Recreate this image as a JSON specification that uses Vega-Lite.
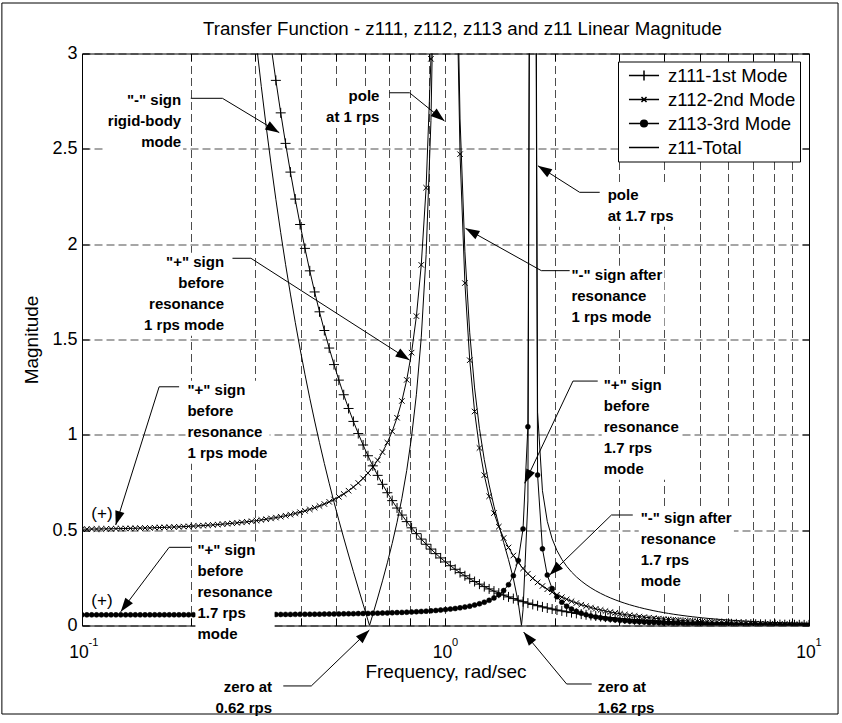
{
"$schema": "https://vega.github.io/schema/vega-lite/v6.json",
"width": 727, "height": 572,
"autosize": {"type": "none"},
"padding": {"left": 82, "top": 53.5, "right": 33, "bottom": 97.5},
"background": "white",
"title": {"text": "Transfer Function - z111, z112, z113 and z11 Linear Magnitude", "frame": "group", "anchor": "middle", "dx": 17, "dy": 66, "baseline": "alphabetic", "offset": 15, "font": "Liberation Sans", "fontSize": 18.7, "fontWeight": "normal", "color": "black"},
"config": {
  "view": {"stroke": "black", "strokeWidth": 1},
  "axis": {"labelFont": "Liberation Sans", "titleFont": "Liberation Sans", "labelColor": "black", "titleColor": "black", "tickColor": "black", "domain": false, "labelFlush": false, "labelOverlap": false, "titleFontWeight": "normal"}
},
"resolve": {"axis": {"x": "independent", "y": "independent"}},
"datasets": {
"z111": [{"f":0.1,"m":33.333},{"f":0.10312,"m":31.348},{"f":0.10633,"m":29.481},{"f":0.10965,"m":27.725},{"f":0.11307,"m":26.074},{"f":0.11659,"m":24.521},{"f":0.12023,"m":23.061},{"f":0.12398,"m":21.688},{"f":0.12784,"m":20.396},{"f":0.13183,"m":19.181},{"f":0.13594,"m":18.039},{"f":0.14017,"m":16.965},{"f":0.14454,"m":15.954},{"f":0.14905,"m":15.004},{"f":0.1537,"m":14.11},{"f":0.15849,"m":13.27},{"f":0.16343,"m":12.48},{"f":0.16853,"m":11.737},{"f":0.17378,"m":11.038},{"f":0.1792,"m":10.38},{"f":0.18479,"m":9.7621},{"f":0.19055,"m":9.1808},{"f":0.19649,"m":8.6341},{"f":0.20261,"m":8.1198},{"f":0.20893,"m":7.6362},{"f":0.21544,"m":7.1814},{"f":0.22216,"m":6.7538},{"f":0.22909,"m":6.3515},{"f":0.23623,"m":5.9732},{"f":0.24359,"m":5.6175},{"f":0.25119,"m":5.283},{"f":0.25902,"m":4.9684},{"f":0.2671,"m":4.6725},{"f":0.27542,"m":4.3942},{"f":0.28401,"m":4.1325},{"f":0.29286,"m":3.8864},{"f":0.302,"m":3.6549},{"f":0.31141,"m":3.4373},{"f":0.32112,"m":3.2325},{"f":0.33113,"m":3.04},{"f":0.34145,"m":2.859},{"f":0.3521,"m":2.6887},{"f":0.36308,"m":2.5286},{"f":0.3744,"m":2.378},{"f":0.38607,"m":2.2364},{"f":0.39811,"m":2.1032},{"f":0.41052,"m":1.9779},{"f":0.42332,"m":1.8601},{"f":0.43652,"m":1.7494},{"f":0.45013,"m":1.6452},{"f":0.46416,"m":1.5472},{"f":0.47863,"m":1.4551},{"f":0.49355,"m":1.3684},{"f":0.50894,"m":1.2869},{"f":0.52481,"m":1.2103},{"f":0.54117,"m":1.1382},{"f":0.55804,"m":1.0704},{"f":0.57544,"m":1.0067},{"f":0.59338,"m":0.9467},{"f":0.61188,"m":0.8903},{"f":0.63096,"m":0.8373},{"f":0.65063,"m":0.7874},{"f":0.67091,"m":0.7405},{"f":0.69183,"m":0.6964},{"f":0.7134,"m":0.655},{"f":0.73564,"m":0.616},{"f":0.75858,"m":0.5793},{"f":0.78223,"m":0.5448},{"f":0.80662,"m":0.5123},{"f":0.83176,"m":0.4818},{"f":0.8577,"m":0.4531},{"f":0.88444,"m":0.4261},{"f":0.91201,"m":0.4008},{"f":0.94044,"m":0.3769},{"f":0.96977,"m":0.3544},{"f":1,"m":0.3333},{"f":1.0312,"m":0.3135},{"f":1.0633,"m":0.2948},{"f":1.0965,"m":0.2773},{"f":1.1307,"m":0.2607},{"f":1.1659,"m":0.2452},{"f":1.2023,"m":0.2306},{"f":1.2398,"m":0.2169},{"f":1.2784,"m":0.204},{"f":1.3183,"m":0.1918},{"f":1.3594,"m":0.1804},{"f":1.4017,"m":0.1696},{"f":1.4454,"m":0.1595},{"f":1.4905,"m":0.15},{"f":1.537,"m":0.1411},{"f":1.5849,"m":0.1327},{"f":1.6343,"m":0.1248},{"f":1.6853,"m":0.1174},{"f":1.7378,"m":0.1104},{"f":1.792,"m":0.1038},{"f":1.8479,"m":0.0976},{"f":1.9055,"m":0.0918},{"f":1.9649,"m":0.0863},{"f":2.0261,"m":0.0812},{"f":2.0893,"m":0.0764},{"f":2.1544,"m":0.0718},{"f":2.2216,"m":0.0675},{"f":2.2909,"m":0.0635},{"f":2.3623,"m":0.0597},{"f":2.4359,"m":0.0562},{"f":2.5119,"m":0.0528},{"f":2.5902,"m":0.0497},{"f":2.671,"m":0.0467},{"f":2.7542,"m":0.0439},{"f":2.8401,"m":0.0413},{"f":2.9286,"m":0.0389},{"f":3.02,"m":0.0365},{"f":3.1141,"m":0.0344},{"f":3.2112,"m":0.0323},{"f":3.3113,"m":0.0304},{"f":3.4145,"m":0.0286},{"f":3.521,"m":0.0269},{"f":3.6308,"m":0.0253},{"f":3.744,"m":0.0238},{"f":3.8607,"m":0.0224},{"f":3.9811,"m":0.021},{"f":4.1052,"m":0.0198},{"f":4.2332,"m":0.0186},{"f":4.3652,"m":0.0175},{"f":4.5013,"m":0.0165},{"f":4.6416,"m":0.0155},{"f":4.7863,"m":0.0146},{"f":4.9355,"m":0.0137},{"f":5.0894,"m":0.0129},{"f":5.2481,"m":0.0121},{"f":5.4117,"m":0.0114},{"f":5.5804,"m":0.0107},{"f":5.7544,"m":0.0101},{"f":5.9338,"m":0.0095},{"f":6.1188,"m":0.0089},{"f":6.3096,"m":0.0084},{"f":6.5063,"m":0.0079},{"f":6.7091,"m":0.0074},{"f":6.9183,"m":0.007},{"f":7.134,"m":0.0065},{"f":7.3564,"m":0.0062},{"f":7.5858,"m":0.0058},{"f":7.8223,"m":0.0054},{"f":8.0662,"m":0.0051},{"f":8.3176,"m":0.0048},{"f":8.577,"m":0.0045},{"f":8.8444,"m":0.0043},{"f":9.1201,"m":0.004},{"f":9.4044,"m":0.0038},{"f":9.6977,"m":0.0035},{"f":10,"m":0.0033}],
"z112": [{"f":0.1,"m":0.50505},{"f":0.10312,"m":0.50537},{"f":0.10633,"m":0.50572},{"f":0.10965,"m":0.50609},{"f":0.11307,"m":0.50648},{"f":0.11659,"m":0.50689},{"f":0.12023,"m":0.50733},{"f":0.12398,"m":0.50781},{"f":0.12784,"m":0.50831},{"f":0.13183,"m":0.50884},{"f":0.13594,"m":0.50941},{"f":0.14017,"m":0.51002},{"f":0.14454,"m":0.51067},{"f":0.14905,"m":0.51136},{"f":0.1537,"m":0.5121},{"f":0.15849,"m":0.51288},{"f":0.16343,"m":0.51372},{"f":0.16853,"m":0.51462},{"f":0.17378,"m":0.51557},{"f":0.1792,"m":0.51659},{"f":0.18479,"m":0.51767},{"f":0.19055,"m":0.51883},{"f":0.19649,"m":0.52007},{"f":0.20261,"m":0.52139},{"f":0.20893,"m":0.5228},{"f":0.21544,"m":0.5243},{"f":0.22216,"m":0.5259},{"f":0.22909,"m":0.52761},{"f":0.23623,"m":0.52944},{"f":0.24359,"m":0.53154},{"f":0.25119,"m":0.53367},{"f":0.25902,"m":0.53596},{"f":0.2671,"m":0.53841},{"f":0.27542,"m":0.54104},{"f":0.28401,"m":0.54381},{"f":0.29286,"m":0.54691},{"f":0.302,"m":0.55018},{"f":0.31141,"m":0.5537},{"f":0.32112,"m":0.55749},{"f":0.33113,"m":0.56158},{"f":0.34145,"m":0.56599},{"f":0.3521,"m":0.57076},{"f":0.36308,"m":0.57592},{"f":0.3744,"m":0.58151},{"f":0.38607,"m":0.58758},{"f":0.39811,"m":0.59417},{"f":0.41052,"m":0.60134},{"f":0.42332,"m":0.60916},{"f":0.43652,"m":0.6177},{"f":0.45013,"m":0.62705},{"f":0.46416,"m":0.6373},{"f":0.47863,"m":0.64858},{"f":0.49355,"m":0.66103},{"f":0.50894,"m":0.67478},{"f":0.52481,"m":0.69006},{"f":0.54117,"m":0.70708},{"f":0.55804,"m":0.72613},{"f":0.57544,"m":0.74753},{"f":0.59338,"m":0.77173},{"f":0.61188,"m":0.79923},{"f":0.63096,"m":0.83072},{"f":0.65063,"m":0.86703},{"f":0.67091,"m":0.9093},{"f":0.69183,"m":0.95901},{"f":0.7134,"m":1.0182},{"f":0.73564,"m":1.0897},{"f":0.75858,"m":1.1777},{"f":0.78223,"m":1.2883},{"f":0.80662,"m":1.4311},{"f":0.83176,"m":1.6225},{"f":0.8577,"m":1.8914},{"f":0.88444,"m":2.296},{"f":0.91201,"m":2.972},{"f":0.94044,"m":4.3266},{"f":0.96977,"m":8.3959},{"f":1.0312,"m":7.8955},{"f":1.0633,"m":3.8266},{"f":1.0965,"m":2.472},{"f":1.1307,"m":1.796},{"f":1.1659,"m":1.3914},{"f":1.2023,"m":1.1225},{"f":1.2398,"m":0.93114},{"f":1.2784,"m":0.78826},{"f":1.3183,"m":0.67769},{"f":1.3594,"m":0.58973},{"f":1.4017,"m":0.5182},{"f":1.4454,"m":0.45901},{"f":1.4905,"m":0.4093},{"f":1.537,"m":0.36703},{"f":1.5849,"m":0.33071},{"f":1.6343,"m":0.29923},{"f":1.6853,"m":0.27173},{"f":1.7378,"m":0.24753},{"f":1.792,"m":0.22612},{"f":1.8479,"m":0.20708},{"f":1.9055,"m":0.19006},{"f":1.9649,"m":0.17478},{"f":2.0261,"m":0.16102},{"f":2.0893,"m":0.14858},{"f":2.1544,"m":0.1373},{"f":2.2216,"m":0.12705},{"f":2.2909,"m":0.1177},{"f":2.3623,"m":0.10916},{"f":2.4359,"m":0.10134},{"f":2.5119,"m":0.09417},{"f":2.5902,"m":0.08758},{"f":2.671,"m":0.08151},{"f":2.7542,"m":0.07592},{"f":2.8401,"m":0.07076},{"f":2.9286,"m":0.06599},{"f":3.02,"m":0.06158},{"f":3.1141,"m":0.05749},{"f":3.2112,"m":0.0537},{"f":3.3113,"m":0.05018},{"f":3.4145,"m":0.04691},{"f":3.521,"m":0.04387},{"f":3.6308,"m":0.04104},{"f":3.744,"m":0.03841},{"f":3.8607,"m":0.03596},{"f":3.9811,"m":0.03367},{"f":4.1052,"m":0.03154},{"f":4.2332,"m":0.02955},{"f":4.3652,"m":0.02769},{"f":4.5013,"m":0.02596},{"f":4.6416,"m":0.02434},{"f":4.7863,"m":0.02282},{"f":4.9355,"m":0.02141},{"f":5.0894,"m":0.02008},{"f":5.2481,"m":0.01884},{"f":5.4117,"m":0.01768},{"f":5.5804,"m":0.01659},{"f":5.7544,"m":0.01557},{"f":5.9338,"m":0.01462},{"f":6.1188,"m":0.01372},{"f":6.3096,"m":0.01288},{"f":6.5063,"m":0.0121},{"f":6.7091,"m":0.01136},{"f":6.9183,"m":0.01067},{"f":7.134,"m":0.01002},{"f":7.3564,"m":0.00941},{"f":7.5858,"m":0.00884},{"f":7.8223,"m":0.00831},{"f":8.0662,"m":0.00781},{"f":8.3176,"m":0.00733},{"f":8.577,"m":0.00689},{"f":8.8444,"m":0.00648},{"f":9.1201,"m":0.00609},{"f":9.4044,"m":0.00572},{"f":9.6977,"m":0.00537},{"f":10,"m":0.00505}],
"z113": [{"f":0.1,"m":0.05574},{"f":0.10312,"m":0.05575},{"f":0.10633,"m":0.05577},{"f":0.10965,"m":0.05578},{"f":0.11307,"m":0.05579},{"f":0.11659,"m":0.05581},{"f":0.12023,"m":0.05583},{"f":0.12398,"m":0.05584},{"f":0.12784,"m":0.05586},{"f":0.13183,"m":0.05588},{"f":0.13594,"m":0.0559},{"f":0.14017,"m":0.05592},{"f":0.14454,"m":0.05595},{"f":0.14905,"m":0.05597},{"f":0.1537,"m":0.056},{"f":0.15849,"m":0.05603},{"f":0.16343,"m":0.05605},{"f":0.16853,"m":0.05609},{"f":0.17378,"m":0.05612},{"f":0.1792,"m":0.05616},{"f":0.18479,"m":0.05619},{"f":0.19055,"m":0.05624},{"f":0.19649,"m":0.05628},{"f":0.20261,"m":0.05633},{"f":0.20893,"m":0.05638},{"f":0.21544,"m":0.05643},{"f":0.22216,"m":0.05649},{"f":0.22909,"m":0.05655},{"f":0.23623,"m":0.05661},{"f":0.24359,"m":0.05668},{"f":0.25119,"m":0.05675},{"f":0.25902,"m":0.05683},{"f":0.2671,"m":0.05691},{"f":0.27542,"m":0.057},{"f":0.28401,"m":0.05709},{"f":0.29286,"m":0.05719},{"f":0.302,"m":0.0573},{"f":0.31141,"m":0.05741},{"f":0.32112,"m":0.05753},{"f":0.33113,"m":0.05766},{"f":0.34145,"m":0.0578},{"f":0.3521,"m":0.05795},{"f":0.36308,"m":0.05811},{"f":0.3744,"m":0.05828},{"f":0.38607,"m":0.05846},{"f":0.39811,"m":0.05865},{"f":0.41052,"m":0.05886},{"f":0.42332,"m":0.05908},{"f":0.43652,"m":0.05932},{"f":0.45013,"m":0.05958},{"f":0.46416,"m":0.05985},{"f":0.47863,"m":0.06015},{"f":0.49355,"m":0.06047},{"f":0.50894,"m":0.06081},{"f":0.52481,"m":0.06117},{"f":0.54117,"m":0.06157},{"f":0.55804,"m":0.06199},{"f":0.57544,"m":0.06245},{"f":0.59338,"m":0.06294},{"f":0.61188,"m":0.06347},{"f":0.63096,"m":0.06406},{"f":0.65063,"m":0.06468},{"f":0.67091,"m":0.06536},{"f":0.69183,"m":0.0661},{"f":0.7134,"m":0.06691},{"f":0.73564,"m":0.06778},{"f":0.75858,"m":0.06874},{"f":0.78223,"m":0.06979},{"f":0.80662,"m":0.07094},{"f":0.83176,"m":0.07221},{"f":0.8577,"m":0.0736},{"f":0.88444,"m":0.07515},{"f":0.91201,"m":0.07687},{"f":0.94044,"m":0.07878},{"f":0.96977,"m":0.08092},{"f":1,"m":0.08333},{"f":1.0312,"m":0.08606},{"f":1.0633,"m":0.08916},{"f":1.0965,"m":0.09271},{"f":1.1307,"m":0.09681},{"f":1.1659,"m":0.10159},{"f":1.2023,"m":0.10721},{"f":1.2398,"m":0.11392},{"f":1.2784,"m":0.12204},{"f":1.3183,"m":0.13205},{"f":1.3594,"m":0.14466},{"f":1.4017,"m":0.16101},{"f":1.4454,"m":0.18301},{"f":1.4905,"m":0.21412},{"f":1.537,"m":0.26136},{"f":1.5849,"m":0.34145},{"f":1.6343,"m":0.50652},{"f":1.6853,"m":1.0423},{"f":1.7378,"m":8.3534},{"f":1.792,"m":0.78915},{"f":1.8479,"m":0.40204},{"f":1.9055,"m":0.26422},{"f":1.9649,"m":0.19364},{"f":2.0261,"m":0.1508},{"f":2.0893,"m":0.12209},{"f":2.1544,"m":0.10153},{"f":2.2216,"m":0.08611},{"f":2.2909,"m":0.07414},{"f":2.3623,"m":0.06459},{"f":2.4359,"m":0.05681},{"f":2.5119,"m":0.05036},{"f":2.5902,"m":0.04494},{"f":2.671,"m":0.04032},{"f":2.7542,"m":0.03634},{"f":2.8401,"m":0.0329},{"f":2.9286,"m":0.02989},{"f":3.02,"m":0.02723},{"f":3.1141,"m":0.02488},{"f":3.2112,"m":0.02279},{"f":3.3113,"m":0.02093},{"f":3.4145,"m":0.01925},{"f":3.521,"m":0.01774},{"f":3.6308,"m":0.01637},{"f":3.744,"m":0.01513},{"f":3.8607,"m":0.014},{"f":3.9811,"m":0.01297},{"f":4.1052,"m":0.01203},{"f":4.2332,"m":0.01117},{"f":4.3652,"m":0.01038},{"f":4.5013,"m":0.00966},{"f":4.6416,"m":0.00899},{"f":4.7863,"m":0.00837},{"f":4.9355,"m":0.0078},{"f":5.0894,"m":0.00728},{"f":5.2481,"m":0.00679},{"f":5.4117,"m":0.00634},{"f":5.5804,"m":0.00592},{"f":5.7544,"m":0.00554},{"f":5.9338,"m":0.00517},{"f":6.1188,"m":0.00484},{"f":6.3096,"m":0.00453},{"f":6.5063,"m":0.00424},{"f":6.7091,"m":0.00397},{"f":6.9183,"m":0.00372},{"f":7.134,"m":0.00348},{"f":7.3564,"m":0.00326},{"f":7.5858,"m":0.00306},{"f":7.8223,"m":0.00286},{"f":8.0662,"m":0.00269},{"f":8.3176,"m":0.00252},{"f":8.577,"m":0.00236},{"f":8.8444,"m":0.00222},{"f":9.1201,"m":0.00208},{"f":9.4044,"m":0.00195},{"f":9.6977,"m":0.00183},{"f":10,"m":0.00172}],
"z11": [{"f":0.1,"m":32.773},{"f":0.10312,"m":30.787},{"f":0.10633,"m":28.92},{"f":0.10965,"m":27.164},{"f":0.11307,"m":25.512},{"f":0.11659,"m":23.959},{"f":0.12023,"m":22.498},{"f":0.12398,"m":21.124},{"f":0.12784,"m":19.832},{"f":0.13183,"m":18.617},{"f":0.13594,"m":17.474},{"f":0.14017,"m":16.399},{"f":0.14454,"m":15.388},{"f":0.14905,"m":14.437},{"f":0.1537,"m":13.542},{"f":0.15849,"m":12.701},{"f":0.16343,"m":11.91},{"f":0.16853,"m":11.166},{"f":0.17378,"m":10.466},{"f":0.1792,"m":9.8076},{"f":0.18479,"m":9.1882},{"f":0.19055,"m":8.6057},{"f":0.19649,"m":8.0577},{"f":0.20261,"m":7.5421},{"f":0.20893,"m":7.057},{"f":0.21544,"m":6.6007},{"f":0.22216,"m":6.1714},{"f":0.22909,"m":5.7673},{"f":0.23623,"m":5.3872},{"f":0.24359,"m":5.0293},{"f":0.25119,"m":4.6926},{"f":0.25902,"m":4.3756},{"f":0.2671,"m":4.0772},{"f":0.27542,"m":3.7962},{"f":0.28401,"m":3.5316},{"f":0.29286,"m":3.2823},{"f":0.302,"m":3.0474},{"f":0.31141,"m":2.8262},{"f":0.32112,"m":2.6175},{"f":0.33113,"m":2.4208},{"f":0.34145,"m":2.2352},{"f":0.3521,"m":2.06},{"f":0.36308,"m":1.8946},{"f":0.3744,"m":1.7382},{"f":0.38607,"m":1.5903},{"f":0.39811,"m":1.4504},{"f":0.41052,"m":1.3177},{"f":0.42332,"m":1.1918},{"f":0.43652,"m":1.0724},{"f":0.45013,"m":0.9586},{"f":0.46416,"m":0.85},{"f":0.47863,"m":0.7464},{"f":0.49355,"m":0.6469},{"f":0.50894,"m":0.5513},{"f":0.52481,"m":0.4591},{"f":0.54117,"m":0.3696},{"f":0.55804,"m":0.2823},{"f":0.57544,"m":0.1967},{"f":0.59338,"m":0.112},{"f":0.61188,"m":0.0276},{"f":0.618,"m":0},{"f":0.63096,"m":0.0575},{"f":0.65063,"m":0.1443},{"f":0.67091,"m":0.2341},{"f":0.69183,"m":0.3287},{"f":0.7134,"m":0.4302},{"f":0.73564,"m":0.5416},{"f":0.75858,"m":0.6672},{"f":0.78223,"m":0.8133},{"f":0.80662,"m":0.9898},{"f":0.83176,"m":1.2129},{"f":0.8577,"m":1.5119},{"f":0.88444,"m":1.945},{"f":0.91201,"m":2.6481},{"f":0.94044,"m":4.0285},{"f":0.96977,"m":8.1224},{"f":1.0312,"m":8.123},{"f":1.0633,"m":4.0323},{"f":1.0965,"m":2.6566},{"f":1.1307,"m":1.9599},{"f":1.1659,"m":1.535},{"f":1.2023,"m":1.2459},{"f":1.2398,"m":1.0341},{"f":1.2784,"m":0.87018},{"f":1.3183,"m":0.73746},{"f":1.3594,"m":0.62546},{"f":1.4017,"m":0.52684},{"f":1.4454,"m":0.43555},{"f":1.4905,"m":0.34522},{"f":1.537,"m":0.24678},{"f":1.5849,"m":0.12196},{"f":1.618,"m":0},{"f":1.6343,"m":0.08249},{"f":1.6853,"m":0.6532},{"f":1.7378,"m":8.7113},{"f":1.792,"m":1.1191},{"f":1.8479,"m":0.70674},{"f":1.9055,"m":0.54609},{"f":1.9649,"m":0.45476},{"f":2.0261,"m":0.39302},{"f":2.0893,"m":0.34703},{"f":2.1544,"m":0.31065},{"f":2.2216,"m":0.2807},{"f":2.2909,"m":0.25535},{"f":2.3623,"m":0.23348},{"f":2.4359,"m":0.21433},{"f":2.5119,"m":0.19736},{"f":2.5902,"m":0.1822},{"f":2.671,"m":0.16855},{"f":2.7542,"m":0.15621},{"f":2.8401,"m":0.14498},{"f":2.9286,"m":0.13474},{"f":3.02,"m":0.12536},{"f":3.1141,"m":0.11674},{"f":3.2112,"m":0.10881},{"f":3.3113,"m":0.1015},{"f":3.4145,"m":0.09475},{"f":3.521,"m":0.08849},{"f":3.6308,"m":0.0827},{"f":3.744,"m":0.07732},{"f":3.8607,"m":0.07232},{"f":3.9811,"m":0.06768},{"f":4.1052,"m":0.06335},{"f":4.2332,"m":0.05932},{"f":4.3652,"m":0.05557},{"f":4.5013,"m":0.05207},{"f":4.6416,"m":0.0488},{"f":4.7863,"m":0.04575},{"f":4.9355,"m":0.04289},{"f":5.0894,"m":0.04023},{"f":5.2481,"m":0.03773},{"f":5.4117,"m":0.0354},{"f":5.5804,"m":0.03322},{"f":5.7544,"m":0.03117},{"f":5.9338,"m":0.02926},{"f":6.1188,"m":0.02746},{"f":6.3096,"m":0.02578},{"f":6.5063,"m":0.02421},{"f":6.7091,"m":0.02273},{"f":6.9183,"m":0.02135},{"f":7.134,"m":0.02005},{"f":7.3564,"m":0.01883},{"f":7.5858,"m":0.01769},{"f":7.8223,"m":0.01662},{"f":8.0662,"m":0.01561},{"f":8.3176,"m":0.01467},{"f":8.577,"m":0.01378},{"f":8.8444,"m":0.01295},{"f":9.1201,"m":0.01217},{"f":9.4044,"m":0.01144},{"f":9.6977,"m":0.01075},{"f":10,"m":0.0101}],
"boxes": [
{"f1":0.1162,"f2":0.1897,"m1":2.801,"m2":2.476},
{"f1":0.4629,"f2":0.6664,"m1":2.824,"m2":2.609},
{"f1":2.76,"f2":4.301,"m1":2.307,"m2":2.092},
{"f1":2.192,"f2":4.001,"m1":1.887,"m2":1.562},
{"f1":0.1463,"f2":0.2477,"m1":1.955,"m2":1.52},
{"f1":0.1926,"f2":0.3281,"m1":1.284,"m2":0.8486},
{"f1":0.2051,"f2":0.3387,"m1":0.4411,"m2":-0.1044},
{"f1":2.69,"f2":4.44,"m1":1.31,"m2":0.7647},
{"f1":3.401,"f2":6.215,"m1":0.6126,"m2":0.1773}],
"frame": [{"f1":0.0602,"f2":12.02,"m1":3.2648,"m2":-0.4642}],
"arrows": [
{"a":1,"o":1,"f":0.1992,"m":2.765},{"a":1,"o":2,"f":0.2434,"m":2.765},{"a":1,"o":3,"f":0.3489,"m":2.585},
{"a":2,"o":1,"f":0.7011,"m":2.794},{"a":2,"o":2,"f":0.7961,"m":2.794},{"a":2,"o":3,"f":0.9937,"m":2.646},
{"a":3,"o":1,"f":2.656,"m":2.272},{"a":3,"o":2,"f":2.339,"m":2.272},{"a":3,"o":3,"f":1.796,"m":2.411},
{"a":4,"o":1,"f":2.196,"m":1.861},{"a":4,"o":2,"f":1.835,"m":1.861},{"a":4,"o":3,"f":1.135,"m":2.083},
{"a":5,"o":1,"f":0.2594,"m":1.926},{"a":5,"o":2,"f":0.2915,"m":1.926},{"a":5,"o":3,"f":0.7961,"m":1.392},
{"a":6,"o":1,"f":0.185,"m":1.252},{"a":6,"o":2,"f":0.163,"m":1.252},{"a":6,"o":3,"f":0.1238,"m":0.527},
{"a":7,"o":1,"f":0.1992,"m":0.41},{"a":7,"o":2,"f":0.1737,"m":0.41},{"a":7,"o":3,"f":0.1278,"m":0.0724},
{"a":8,"o":1,"f":0.3579,"m":-0.317},{"a":8,"o":2,"f":0.4274,"m":-0.317},{"a":8,"o":3,"f":0.6174,"m":-0.0236},
{"a":9,"o":1,"f":2.525,"m":-0.3068},{"a":9,"o":2,"f":2.154,"m":-0.3068},{"a":9,"o":3,"f":1.64,"m":-0.0341},
{"a":10,"o":1,"f":2.623,"m":1.282},{"a":10,"o":2,"f":2.242,"m":1.282},{"a":10,"o":3,"f":1.651,"m":0.7458},
{"a":11,"o":1,"f":3.275,"m":0.5795},{"a":11,"o":2,"f":2.861,"m":0.5795},{"a":11,"o":3,"f":1.934,"m":0.2649}],
"heads": [
{"f":0.3489,"m":2.585,"ang":31.2},{"f":0.9937,"m":2.646,"ang":39},{"f":1.796,"m":2.411,"ang":212.5},{"f":1.135,"m":2.083,"ang":209.3},{"f":0.7961,"m":1.392,"ang":32.7},{"f":0.1238,"m":0.527,"ang":107.4},{"f":0.1278,"m":0.0724,"ang":126.9},{"f":0.6174,"m":-0.0236,"ang":316},{"f":1.64,"m":-0.0341,"ang":230.4},{"f":1.651,"m":0.7458,"ang":115.3},{"f":1.934,"m":0.2649,"ang":135.8}],
"notesR": [
{"f":0.1874,"m":2.791,"t":"\"-\" sign\nrigid-body\nmode"},
{"f":0.658,"m":2.814,"t":"pole\nat 1 rps"},
{"f":0.246,"m":1.945,"t":"\"+\" sign\nbefore\nresonance\n1 rps mode"},
{"f":0.3334,"m":-0.284,"t":"zero at\n0.62 rps"}],
"notesL": [
{"f":2.794,"m":2.296,"t":"pole\nat 1.7 rps"},
{"f":2.22,"m":1.877,"t":"\"-\" sign after\nresonance\n1 rps mode"},
{"f":0.195,"m":1.273,"t":"\"+\" sign\nbefore\nresonance\n1 rps mode"},
{"f":0.2078,"m":0.431,"t":"\"+\" sign\nbefore\nresonance\n1.7 rps\nmode"},
{"f":2.725,"m":1.3,"t":"\"+\" sign\nbefore\nresonance\n1.7 rps\nmode"},
{"f":3.444,"m":0.602,"t":"\"-\" sign after\nresonance\n1.7 rps\nmode"},
{"f":2.623,"m":-0.284,"t":"zero at\n1.62 rps"}],
"plus": [{"f":0.1135,"m":0.5848},{"f":0.1135,"m":0.1285}]
},
"layer": [
{
  "data": {"name": "z11"},
  "mark": {"type": "line", "color": "black", "strokeWidth": 1, "clip": true},
  "encoding": {
    "x": {"field": "f", "type": "quantitative", "scale": {"type": "log", "domain": [0.1, 10], "nice": false},
      "axis": {"orient": "bottom", "values": [0.1,0.2,0.3,0.4,0.5,0.6,0.7,0.8,0.9,1,2,3,4,5,6,7,8,9,10],
        "labelExpr": "datum.value == 0.1 || datum.value == 1 || datum.value == 10 ? '10' : ''",
        "labelFontSize": 17.5, "labelBaseline": "alphabetic", "labelPadding": 38.5, "labelOffset": -3.5, "labelAlign": "center",
        "tickSize": -7, "tickWidth": 1,
        "grid": true, "gridColor": "black", "gridDash": [8, 4], "gridWidth": 0.7, "gridOpacity": 1,
        "title": "Frequency, rad/sec", "titleFontSize": 19, "titlePadding": 2}},
    "y": {"field": "m", "type": "quantitative", "scale": {"domain": [0, 3], "nice": false},
      "axis": {"orient": "left", "values": [0,0.5,1,1.5,2,2.5,3], "labelExpr": "'' + datum.value",
        "labelFontSize": 18, "labelPadding": 12, "tickSize": -7, "tickWidth": 1,
        "grid": true, "gridColor": "black", "gridDash": [8, 4], "gridWidth": 0.7, "gridOpacity": 1,
        "title": "Magnitude", "titleFontSize": 19, "titlePadding": 10}}
  }
},
{
  "data": {"name": "z111"},
  "mark": {"type": "line", "color": "black", "strokeWidth": 1, "clip": true},
  "encoding": {
    "x": {"field": "f", "type": "quantitative", "scale": {"type": "log", "domain": [0.1, 10], "nice": false}, "axis": null},
    "y": {"field": "m", "type": "quantitative", "scale": {"domain": [0, 3], "nice": false}, "axis": null}
  }
},
{
  "data": {"name": "z111"},
  "mark": {"type": "point", "shape": "M-1,0H1M0,-1V1", "filled": false, "stroke": "black", "strokeWidth": 1, "size": 100, "opacity": 1, "clip": true},
  "encoding": {
    "x": {"field": "f", "type": "quantitative", "scale": {"type": "log", "domain": [0.1, 10], "nice": false}, "axis": null},
    "y": {"field": "m", "type": "quantitative", "scale": {"domain": [0, 3], "nice": false}, "axis": null}
  }
},
{
  "data": {"name": "z112"},
  "mark": {"type": "line", "color": "black", "strokeWidth": 1, "clip": true},
  "encoding": {
    "x": {"field": "f", "type": "quantitative", "scale": {"type": "log", "domain": [0.1, 10], "nice": false}, "axis": null},
    "y": {"field": "m", "type": "quantitative", "scale": {"domain": [0, 3], "nice": false}, "axis": null}
  }
},
{
  "data": {"name": "z112"},
  "mark": {"type": "point", "shape": "M-1,-1L1,1M-1,1L1,-1", "filled": false, "stroke": "black", "strokeWidth": 1, "size": 30, "opacity": 1, "clip": true},
  "encoding": {
    "x": {"field": "f", "type": "quantitative", "scale": {"type": "log", "domain": [0.1, 10], "nice": false}, "axis": null},
    "y": {"field": "m", "type": "quantitative", "scale": {"domain": [0, 3], "nice": false}, "axis": null}
  }
},
{
  "data": {"name": "z113"},
  "mark": {"type": "line", "color": "black", "strokeWidth": 1, "clip": true},
  "encoding": {
    "x": {"field": "f", "type": "quantitative", "scale": {"type": "log", "domain": [0.1, 10], "nice": false}, "axis": null},
    "y": {"field": "m", "type": "quantitative", "scale": {"domain": [0, 3], "nice": false}, "axis": null}
  }
},
{
  "data": {"name": "z113"},
  "mark": {"type": "point", "shape": "circle", "filled": true, "fill": "black", "stroke": "black", "strokeWidth": 0.5, "size": 25, "opacity": 1, "clip": true},
  "encoding": {
    "x": {"field": "f", "type": "quantitative", "scale": {"type": "log", "domain": [0.1, 10], "nice": false}, "axis": null},
    "y": {"field": "m", "type": "quantitative", "scale": {"domain": [0, 3], "nice": false}, "axis": null}
  }
},
{
  "data": {"name": "boxes"},
  "mark": {"type": "rect", "fill": "white", "stroke": null, "opacity": 1},
  "encoding": {
    "x": {"field": "f1", "type": "quantitative", "scale": {"type": "log", "domain": [0.1, 10], "nice": false}, "axis": null},
    "x2": {"field": "f2"},
    "y": {"field": "m1", "type": "quantitative", "scale": {"domain": [0, 3], "nice": false}, "axis": null},
    "y2": {"field": "m2"}
  }
},
{
  "data": {"name": "frame"},
  "mark": {"type": "rect", "fill": null, "filled": false, "stroke": "black", "strokeWidth": 1, "opacity": 1},
  "encoding": {
    "x": {"field": "f1", "type": "quantitative", "scale": {"type": "log", "domain": [0.1, 10], "nice": false}, "axis": null},
    "x2": {"field": "f2"},
    "y": {"field": "m1", "type": "quantitative", "scale": {"domain": [0, 3], "nice": false}, "axis": null},
    "y2": {"field": "m2"}
  }
},
{
  "data": {"name": "arrows"},
  "mark": {"type": "line", "color": "black", "strokeWidth": 1},
  "encoding": {
    "x": {"field": "f", "type": "quantitative", "scale": {"type": "log", "domain": [0.1, 10], "nice": false},
      "axis": {"orient": "top", "values": [0.1,0.2,0.3,0.4,0.5,0.6,0.7,0.8,0.9,1,2,3,4,5,6,7,8,9,10], "labels": false, "tickSize": -7, "tickWidth": 1, "grid": false, "title": null}},
    "y": {"field": "m", "type": "quantitative", "scale": {"domain": [0, 3], "nice": false},
      "axis": {"orient": "right", "values": [0,0.5,1,1.5,2,2.5,3], "labels": false, "tickSize": -7, "tickWidth": 1, "grid": false, "title": null}},
    "detail": {"field": "a", "type": "nominal"},
    "order": {"field": "o", "type": "quantitative"}
  }
},
{
  "data": {"name": "heads"},
  "mark": {"type": "point", "shape": "M0,0L-1,-0.34L-1,0.34Z", "filled": true, "fill": "black", "stroke": null, "size": 784, "opacity": 1},
  "encoding": {
    "x": {"field": "f", "type": "quantitative", "scale": {"type": "log", "domain": [0.1, 10], "nice": false}, "axis": null},
    "y": {"field": "m", "type": "quantitative", "scale": {"domain": [0, 3], "nice": false}, "axis": null},
    "angle": {"field": "ang", "type": "quantitative", "scale": null}
  }
},
{
  "data": {"name": "notesR"},
  "mark": {"type": "text", "align": "right", "baseline": "top", "lineBreak": "\n", "lineHeight": 21, "font": "Liberation Sans", "fontWeight": "bold", "fontSize": 15, "color": "black"},
  "encoding": {
    "x": {"field": "f", "type": "quantitative", "scale": {"type": "log", "domain": [0.1, 10], "nice": false}, "axis": null},
    "y": {"field": "m", "type": "quantitative", "scale": {"domain": [0, 3], "nice": false}, "axis": null},
    "text": {"field": "t", "type": "nominal"}
  }
},
{
  "data": {"name": "notesL"},
  "mark": {"type": "text", "align": "left", "baseline": "top", "lineBreak": "\n", "lineHeight": 21, "font": "Liberation Sans", "fontWeight": "bold", "fontSize": 15, "color": "black"},
  "encoding": {
    "x": {"field": "f", "type": "quantitative", "scale": {"type": "log", "domain": [0.1, 10], "nice": false}, "axis": null},
    "y": {"field": "m", "type": "quantitative", "scale": {"domain": [0, 3], "nice": false}, "axis": null},
    "text": {"field": "t", "type": "nominal"}
  }
},
{
  "data": {"name": "plus"},
  "mark": {"type": "text", "text": "(+)", "align": "center", "baseline": "middle", "font": "Liberation Sans", "fontSize": 17, "color": "black"},
  "encoding": {
    "x": {"field": "f", "type": "quantitative", "scale": {"type": "log", "domain": [0.1, 10], "nice": false},
      "axis": {"orient": "bottom", "values": [0.1, 1, 10], "labelExpr": "datum.value == 0.1 ? '-1' : datum.value == 1 ? '0' : '1'", "ticks": false, "grid": false, "labelFontSize": 11, "labelAlign": "left", "labelBaseline": "alphabetic", "labelPadding": 19.5, "labelOffset": 6, "title": null}},
    "y": {"field": "m", "type": "quantitative", "scale": {"domain": [0, 3], "nice": false}, "axis": null}
  }
},
{
  "data": {"name": "plus"},
  "mark": {"type": "point", "filled": true, "fill": "black", "stroke": "black", "strokeWidth": 1, "size": 324, "opacity": 0},
  "encoding": {
    "x": {"field": "f", "type": "quantitative", "scale": {"type": "log", "domain": [0.1, 10], "nice": false}, "axis": null},
    "y": {"field": "m", "type": "quantitative", "scale": {"domain": [0, 3], "nice": false}, "axis": null},
    "shape": {"datum": "z111-1st Mode", "type": "nominal",
      "scale": {"domain": ["z111-1st Mode", "z112-2nd Mode", "z113-3rd Mode", "z11-Total"],
        "range": ["M-1.67,0H1.67M0,-0.56V0.56", "M-1.67,0H1.67M-0.28,-0.28L0.28,0.28M-0.28,0.28L0.28,-0.28", "M-1.67,0H1.67M-0.37,0A0.37,0.37,0,1,0,0.37,0A0.37,0.37,0,1,0,-0.37,0Z", "M-1.67,0H1.67"]},
      "legend": {"orient": "none", "legendX": 536, "legendY": 8, "title": null, "direction": "vertical",
        "strokeColor": "black", "fillColor": "white", "padding": 4, "symbolSize": 324, "symbolOffset": 12, "labelOffset": 14,
        "labelFont": "Liberation Sans", "labelFontSize": 18.5, "labelColor": "black", "rowPadding": 4, "labelLimit": 300,
        "encode": {"symbols": {"fill": {"value": "black"}, "stroke": {"value": "black"}, "strokeWidth": {"value": 1}, "opacity": {"value": 1}}}}}
  }
}
]
}
